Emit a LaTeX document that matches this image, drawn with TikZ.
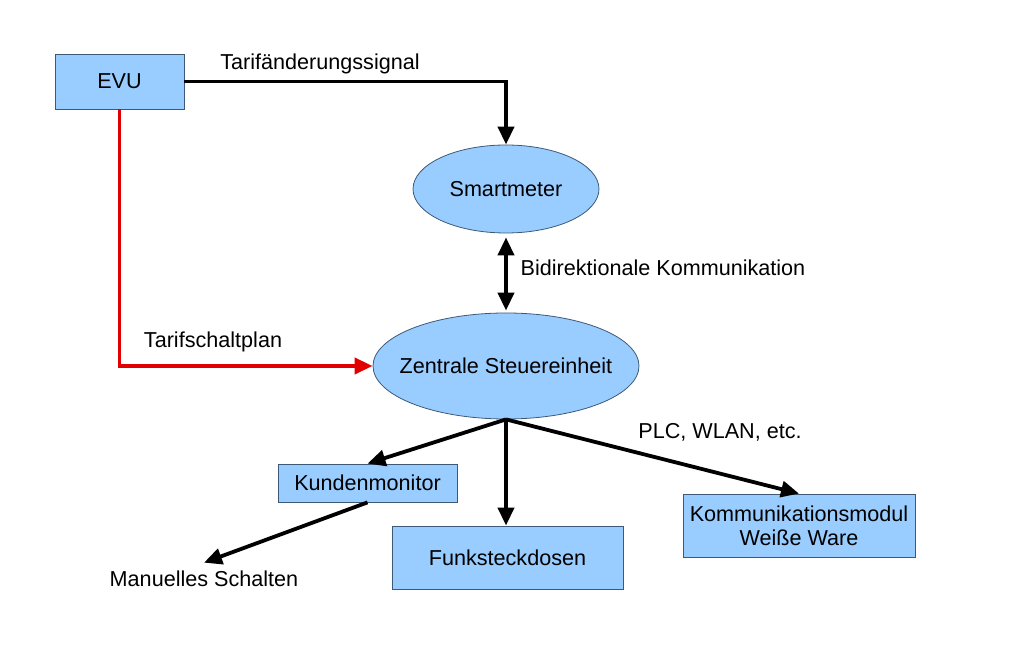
\documentclass[tikz,border=0pt]{standalone}
\usepackage{fontspec}
\setmainfont{Liberation Sans}
\usetikzlibrary{shapes.geometric,arrows.meta}
\definecolor{boxfill}{HTML}{99CCFF}
\definecolor{boxline}{HTML}{3C5A78}
\definecolor{planred}{HTML}{E00000}
\begin{document}
\begin{tikzpicture}
[x=0.5pt,y=-0.5pt,
  font=\fontsize{10.8}{12}\selectfont,
  boxdecorate/.style={shape=rectangle,draw=boxline,fill=boxfill,thin,align=center},%
  elldecorate/.style={shape=ellipse,draw=boxline,fill=boxfill,thin,inner sep=0pt},%
  labeldecorate/.style={inner sep=0pt},%
  linedecorate/.style={-{Triangle[length=9pt,width=8pt]},line width=1.9pt},%
  redlinedecorate/.style={linedecorate,draw=planred}]
\useasboundingbox (0,0) rectangle (1024,651);
% nodes or vertices
\node (evu) at (119.5,81.5) [boxdecorate,minimum width=64.5pt,minimum height=27.5pt] {EVU};
\node (smart) at (506,189) [elldecorate,minimum width=93pt,minimum height=44pt] {Smartmeter};
\node (zse) at (506,366) [elldecorate,inner xsep=-6.7pt,minimum width=133pt,minimum height=53pt] {Zentrale Steuereinheit};
\node (kunden) at (367.5,483) [boxdecorate,minimum width=89.5pt,minimum height=19pt] {Kundenmonitor};
\node (funk) at (507.5,557.5) [boxdecorate,minimum width=115.5pt,minimum height=31.5pt] {Funksteckdosen};
\node (komm) at (799,525.5) [boxdecorate,minimum width=116pt,minimum height=31.5pt] {Kommunikationsmodul\\Weiße Ware};
% labels
\node (sig) at (320,64) [labeldecorate] {Tarifänderungssignal};
\node (bidi) at (663,268) [labeldecorate] {Bidirektionale Kommunikation};
\node (plan) at (213,342) [labeldecorate] {Tarifschaltplan};
\node (plc) at (720,432) [labeldecorate] {PLC, WLAN, etc.};
\node (manual) at (204,579) [labeldecorate,inner sep=4pt] {Manuelles Schalten};
% edges or lines
\draw[linedecorate] (evu.east) -| (smart.north);
\draw[redlinedecorate] (evu.south) |- (zse.west);
\path
(smart.south) edge[linedecorate,{Triangle[length=9pt,width=8pt]}-{Triangle[length=9pt,width=8pt]},shorten <=2pt,shorten >=1pt] node {} (zse.north)
(zse.south) edge[linedecorate] node {} (kunden.north)
(zse.south) edge[linedecorate] node {} (zse.south |- funk.north)
(zse.south) edge[linedecorate] node {} (komm.north)
(kunden.south) edge[linedecorate] node {} (manual.north);
\end{tikzpicture}
\end{document}
